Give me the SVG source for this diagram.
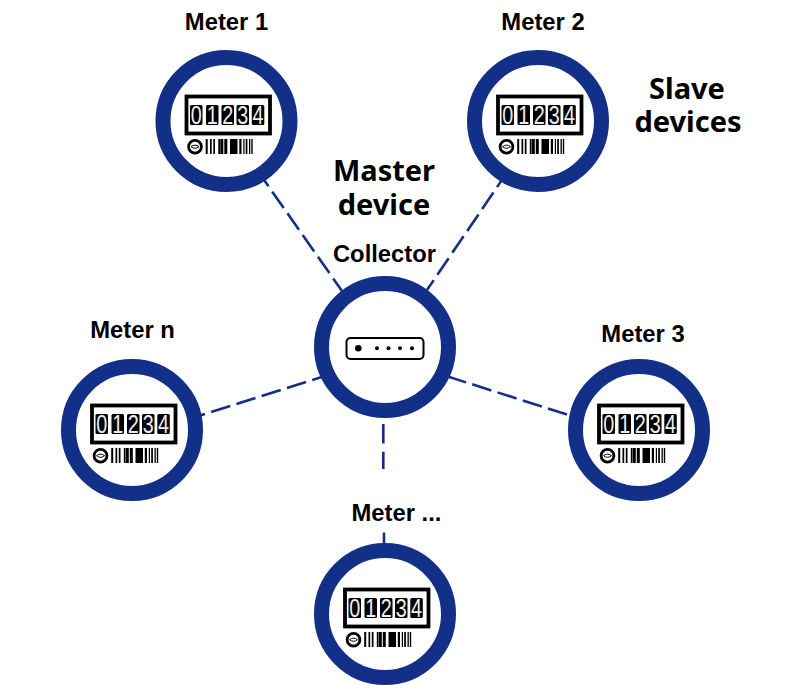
<svg xmlns="http://www.w3.org/2000/svg" width="800" height="685" viewBox="0 0 800 685">
<style>
.ring{fill:#fff;stroke:#123087;stroke-width:15}
.lbl{font:bold 23.800px "Liberation Sans",Arial,sans-serif;fill:#000;text-anchor:middle}
.big{font:bold 29px "Noto Sans","Open Sans",sans-serif;fill:#000;text-anchor:middle}
.dg{font:25px "Liberation Sans",Arial,sans-serif;fill:#eee}
.link{stroke:#123087;stroke-width:2.600;stroke-dasharray:20 6.500;fill:none}
</style>
<defs>
<g id="face">
<circle class="ring" r="63.500"/>
<rect x="-40" y="-24.500" width="83.500" height="37" fill="#fff" stroke="#000" stroke-width="3.800"/>
<g fill="#000">
<rect x="-36.500" y="-16" width="12.500" height="20" rx="1.500"/><rect x="-20.500" y="-16" width="12.500" height="20" rx="1.500"/><rect x="-5" y="-16" width="12.500" height="20" rx="1.500"/><rect x="10" y="-16" width="12.500" height="20" rx="1.500"/><rect x="25.300" y="-16" width="12.500" height="20" rx="1.500"/>
</g>
<g fill="#000">
<rect x="-20.800" y="18" width="2" height="15"/><rect x="-16.500" y="18" width="1.700" height="15"/><rect x="-13.200" y="18" width="1.700" height="15"/><rect x="-8.200" y="18" width="1.700" height="15"/><rect x="-6.200" y="18" width="3" height="15"/><rect x="-2.200" y="18" width="3" height="15"/><rect x="3.500" y="18" width="7.500" height="15"/><rect x="12.800" y="18" width="2.200" height="15"/><rect x="16.800" y="18" width="1.200" height="15"/><rect x="19.200" y="18" width="1.700" height="15"/><rect x="22.500" y="18" width="1.300" height="15"/><rect x="24.800" y="18" width="1.400" height="15"/>
</g>
<circle cx="-31.500" cy="25.700" r="6.400" fill="#fff" stroke="#000" stroke-width="2.800"/>
<path d="M-35.500 25.700Q-31.500 22.500 -27.500 25.700Q-31.500 28.900 -35.500 25.700Z" fill="none" stroke="#000" stroke-width="1"/>
</g>
</defs>
<g id="connectors">
<line class="link" x1="257" y1="170" x2="342" y2="291"/>
<line class="link" x1="508.300" y1="170.600" x2="427" y2="290"/>
<line class="link" x1="331.300" y1="374" x2="200" y2="415.500"/>
<line class="link" x1="447" y1="376.300" x2="567" y2="414.500"/>
<line class="link" x1="383.300" y1="424" x2="383.300" y2="469" style="stroke-dasharray:19.500 8.200"/>
<line x1="384" y1="532.500" x2="384" y2="545" stroke="#123087" stroke-width="2.600"/>
</g>
<g id="meter-1" transform="translate(226.500 121)"><use href="#face"/>
<g class="dg"><text x="-35.700" y="2.800" textLength="11" lengthAdjust="spacingAndGlyphs">0</text><text x="-19.700" y="2.800" textLength="11" lengthAdjust="spacingAndGlyphs">1</text><text x="-4.200" y="2.800" textLength="11" lengthAdjust="spacingAndGlyphs">2</text><text x="10.800" y="2.800" textLength="11" lengthAdjust="spacingAndGlyphs">3</text><text x="26.100" y="2.800" textLength="11" lengthAdjust="spacingAndGlyphs">4</text></g></g>
<g id="meter-2" transform="translate(538 121)"><use href="#face"/>
<g class="dg"><text x="-35.700" y="2.800" textLength="11" lengthAdjust="spacingAndGlyphs">0</text><text x="-19.700" y="2.800" textLength="11" lengthAdjust="spacingAndGlyphs">1</text><text x="-4.200" y="2.800" textLength="11" lengthAdjust="spacingAndGlyphs">2</text><text x="10.800" y="2.800" textLength="11" lengthAdjust="spacingAndGlyphs">3</text><text x="26.100" y="2.800" textLength="11" lengthAdjust="spacingAndGlyphs">4</text></g></g>
<g id="meter-3" transform="translate(639 430)"><use href="#face"/>
<g class="dg"><text x="-35.700" y="2.800" textLength="11" lengthAdjust="spacingAndGlyphs">0</text><text x="-19.700" y="2.800" textLength="11" lengthAdjust="spacingAndGlyphs">1</text><text x="-4.200" y="2.800" textLength="11" lengthAdjust="spacingAndGlyphs">2</text><text x="10.800" y="2.800" textLength="11" lengthAdjust="spacingAndGlyphs">3</text><text x="26.100" y="2.800" textLength="11" lengthAdjust="spacingAndGlyphs">4</text></g></g>
<g id="meter-n" transform="translate(132 430)"><use href="#face"/>
<g class="dg"><text x="-35.700" y="2.800" textLength="11" lengthAdjust="spacingAndGlyphs">0</text><text x="-19.700" y="2.800" textLength="11" lengthAdjust="spacingAndGlyphs">1</text><text x="-4.200" y="2.800" textLength="11" lengthAdjust="spacingAndGlyphs">2</text><text x="10.800" y="2.800" textLength="11" lengthAdjust="spacingAndGlyphs">3</text><text x="26.100" y="2.800" textLength="11" lengthAdjust="spacingAndGlyphs">4</text></g></g>
<g id="meter-dots" transform="translate(385 614)"><use href="#face"/>
<g class="dg"><text x="-35.700" y="2.800" textLength="11" lengthAdjust="spacingAndGlyphs">0</text><text x="-19.700" y="2.800" textLength="11" lengthAdjust="spacingAndGlyphs">1</text><text x="-4.200" y="2.800" textLength="11" lengthAdjust="spacingAndGlyphs">2</text><text x="10.800" y="2.800" textLength="11" lengthAdjust="spacingAndGlyphs">3</text><text x="26.100" y="2.800" textLength="11" lengthAdjust="spacingAndGlyphs">4</text></g></g>
<g id="collector">
<circle class="ring" cx="385" cy="347" r="63.500"/>
<rect x="346.500" y="338" width="77" height="21" rx="4" fill="#fff" stroke="#000" stroke-width="2"/>
<circle cx="358.300" cy="348.300" r="3.300"/><circle cx="377" cy="348.300" r="2"/><circle cx="388.500" cy="348.300" r="2"/><circle cx="400" cy="348.300" r="2"/><circle cx="412" cy="348.300" r="2"/>
</g>
<g id="labels">
<text class="lbl" x="226.500" y="30">Meter 1</text>
<text class="lbl" x="543" y="30">Meter 2</text>
<text class="lbl" x="643" y="341.500">Meter 3</text>
<text class="lbl" x="132.500" y="337.500">Meter n</text>
<text class="lbl" x="396.500" y="520.500">Meter ...</text>
<text class="lbl" x="384.500" y="262">Collector</text>
<text class="big"><tspan x="384" y="181">Master</tspan><tspan x="384" y="215">device</tspan></text>
<text class="big"><tspan x="687" y="99">Slave</tspan><tspan x="688" y="132">devices</tspan></text>
</g>
</svg>
